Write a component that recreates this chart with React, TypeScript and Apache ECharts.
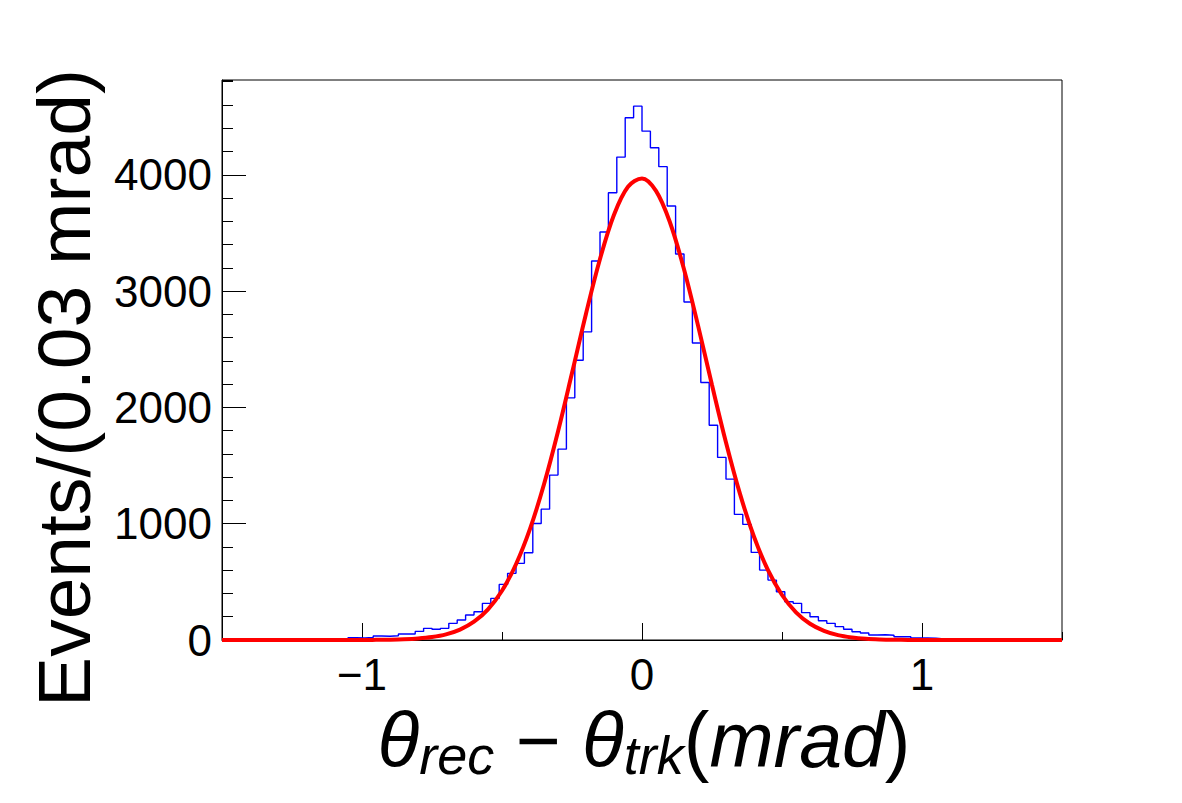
import { useEffect, useRef } from "react";
import * as echarts from "echarts";

// ---- data ----
const histLow = -1.5;
const histHigh = 1.5;
const histBinWidth = 0.03;
const histCounts = [
  0, 0, 1, 1, 2, 1, 3, 2, 4, 5,
  6, 8, 7, 10, 12,
  20, 18, 22,
  34, 32, 36,
  52, 52,
  74, 100, 92, 100, 143, 172, 215, 243, 315, 358,
  478, 573, 659, 750, 1002, 1125, 1418, 1641, 2082, 2405,
  2649, 3259, 3508, 3846, 4152, 4490, 4590, 4375, 4233, 4070,
  3731, 3319, 2906, 2554, 2214, 1847, 1570, 1383, 1080, 994,
  753, 601, 515, 415, 329, 315, 235, 200, 166, 143,
  115, 92, 71, 60,
  43, 45, 41,
  28, 29,
  17, 18, 16,
  10, 8, 9, 6, 5,
  4, 3, 3, 2, 2, 1, 1, 1, 0, 0,
];

const fitX = [
  -1.5, -1.45, -1.4, -1.35, -1.3, -1.25, -1.2, -1.15, -1.1, -1.05, -1.0,
  -0.95, -0.9, -0.85, -0.8, -0.75, -0.7, -0.65, -0.6, -0.55, -0.5,
  -0.45, -0.4, -0.35, -0.3, -0.25, -0.2, -0.15, -0.1, -0.05, 0,
  0.05, 0.1, 0.15, 0.2, 0.25, 0.3, 0.35, 0.4, 0.45, 0.5,
  0.55, 0.6, 0.65, 0.7, 0.75, 0.8, 0.85, 0.9, 0.95, 1.0,
  1.05, 1.1, 1.15, 1.2, 1.25, 1.3, 1.35, 1.4, 1.45, 1.5,
];
const fitY = [
  0, 0, 0, 0, 0, 0, 0, 0, 0, 0, 0,
  1.1, 2.6, 5.8, 12.4, 25, 48, 89, 157, 264, 424,
  651, 955, 1339, 1793, 2295, 2806, 3276, 3656, 3897, 3969,
  3862, 3590, 3188, 2705, 2192, 1698, 1256, 888, 600, 387,
  238, 140, 79, 42, 22, 10.7, 5, 2.2, 1, 0,
  0, 0, 0, 0, 0, 0, 0, 0, 0, 0,
];

const xTickValues = [-1, 0, 1];
const xTickLabels = ["\u22121", "0", "1"];
const yTickValues = [0, 1000, 2000, 3000, 4000];
const yTickLabels = ["0", "1000", "2000", "3000", "4000"];
const yAxisMax = 4815;
const yTitle = "Events/(0.03 mrad)";

// ---- layout ----
const FONT = "Liberation Sans";
const PLOT_LEFT = 222;
const PLOT_TOP = 80;
const PLOT_W = 840;
const PLOT_H = 560;
const pxPerUnitX = PLOT_W / (histHigh - histLow);

export default function App() {
  const ref = useRef<HTMLDivElement>(null);

  useEffect(() => {
    if (!ref.current) return;
    const chart = echarts.init(ref.current, null, { renderer: "svg" });

    const histData: [number, number][] = histCounts.map((c, i) => [
      histLow + i * histBinWidth,
      c,
    ]);
    histData.push([histHigh, histCounts[histCounts.length - 1]]);

    const fitData = fitX.map((x, i) => [x, fitY[i]]);

    const yMajorMax = yTickValues[yTickValues.length - 1];
    const majorH = (PLOT_H * yMajorMax) / yAxisMax;
    const labLeft = PLOT_LEFT + (xTickValues[0] - histLow) * pxPerUnitX;
    const labW = (xTickValues[xTickValues.length - 1] - xTickValues[0]) * pxPerUnitX;

    const black = "#000000";

    const option: any = {
      animation: false,
      backgroundColor: "#ffffff",
      grid: [
        {
          left: PLOT_LEFT,
          top: PLOT_TOP,
          width: PLOT_W,
          height: PLOT_H,
          show: true,
          borderColor: black,
          borderWidth: 1,
          backgroundColor: "transparent",
        },
        { left: labLeft, top: PLOT_TOP, width: labW, height: PLOT_H },
        {
          left: PLOT_LEFT,
          top: PLOT_TOP + PLOT_H - majorH,
          width: PLOT_W,
          height: majorH,
        },
      ],
      xAxis: [
        {
          gridIndex: 0,
          type: "value",
          min: histLow,
          max: histHigh,
          interval: 0.5,
          axisLine: { show: true, onZero: false, lineStyle: { color: black, width: 1 } },
          axisTick: { show: true, inside: true, length: 8, lineStyle: { color: black, width: 1 } },
          axisLabel: { show: false },
          splitLine: { show: false },
        },
        {
          gridIndex: 1,
          type: "value",
          min: xTickValues[0],
          max: xTickValues[xTickValues.length - 1],
          interval: 1,
          axisLine: { show: false, onZero: false },
          axisTick: { show: true, inside: true, length: 17, lineStyle: { color: black, width: 1 } },
          axisLabel: {
            show: true,
            margin: 12,
            fontSize: 44,
            fontFamily: FONT,
            color: black,
            formatter: (v: number) => {
              const idx = xTickValues.indexOf(Math.round(v));
              return idx >= 0 ? xTickLabels[idx] : "";
            },
          },
          splitLine: { show: false },
        },
        { gridIndex: 2, type: "value", min: histLow, max: histHigh, show: false, axisLine: { onZero: false } },
      ],
      yAxis: [
        {
          gridIndex: 0,
          type: "value",
          min: 0,
          max: yAxisMax,
          interval: 200,
          axisLine: { show: true, onZero: false, lineStyle: { color: black, width: 1 } },
          axisTick: { show: true, inside: true, length: 11, lineStyle: { color: black, width: 1 } },
          axisLabel: { show: false },
          splitLine: { show: false },
        },
        { gridIndex: 1, type: "value", min: 0, max: 1, show: false, axisLine: { onZero: false } },
        {
          gridIndex: 2,
          type: "value",
          min: 0,
          max: yMajorMax,
          interval: 1000,
          axisLine: { show: false, onZero: false },
          axisTick: { show: true, inside: true, length: 24, lineStyle: { color: black, width: 1 } },
          axisLabel: {
            show: true,
            margin: 10,
            fontSize: 44,
            fontFamily: FONT,
            color: black,
            formatter: (v: number) => {
              const idx = yTickValues.indexOf(Math.round(v));
              return idx >= 0 ? yTickLabels[idx] : "";
            },
          },
          splitLine: { show: false },
        },
      ],
      series: [
        {
          name: "hist",
          type: "line",
          xAxisIndex: 0,
          yAxisIndex: 0,
          step: "end",
          data: histData,
          showSymbol: false,
          symbol: "none",
          lineStyle: { color: "#0000ff", width: 1.4 },
          z: 2,
        },
        {
          name: "fit",
          type: "line",
          xAxisIndex: 0,
          yAxisIndex: 0,
          data: fitData,
          smooth: 0.35,
          showSymbol: false,
          symbol: "none",
          lineStyle: { color: "#ff0000", width: 4 },
          z: 3,
        },
      ],
      graphic: [
        {
          type: "text",
          x: 64,
          y: 388,
          rotation: Math.PI / 2,
          style: {
            text: yTitle,
            fontSize: 75,
            fontFamily: FONT,
            fill: black,
            textAlign: "center",
            textVerticalAlign: "middle",
          },
        },
        {
          type: "text",
          x: 644,
          y: 740,
          style: {
            text: "{th|\u03b8}{sub|rec}{op| \u2212 }{th|\u03b8}{sub|trk}{up|(}{it|mrad}{up|)}",
            fill: black,
            textAlign: "center",
            textVerticalAlign: "middle",
            rich: {
              th: { fontSize: 77, fontStyle: "italic", fontFamily: FONT, lineHeight: 84, fill: black },
              sub: {
                fontSize: 54,
                fontStyle: "italic",
                fontFamily: FONT,
                lineHeight: 50,
                verticalAlign: "bottom",
                fill: black,
              },
              op: { fontSize: 77, fontFamily: FONT, lineHeight: 84, fill: black },
              it: { fontSize: 77, fontStyle: "italic", fontFamily: FONT, lineHeight: 84, fill: black },
              up: { fontSize: 77, fontFamily: FONT, lineHeight: 84, fill: black },
            },
          },
        },
      ],
    };

    chart.setOption(option);
    return () => chart.dispose();
  }, []);

  return (
    <div
      ref={ref}
      style={{ position: "fixed", left: 0, top: 0, width: 1182, height: 803, background: "#ffffff" }}
    />
  );
}
